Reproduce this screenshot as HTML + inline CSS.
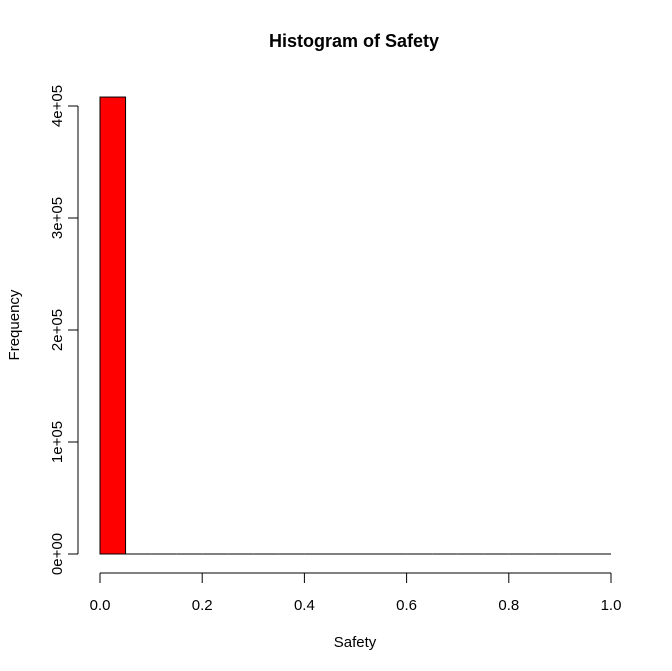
<!DOCTYPE html>
<html><head><meta charset="utf-8"><style>body{margin:0;background:#fff}svg{display:block;font-family:"Liberation Sans",Arial,sans-serif}</style></head>
<body>
<svg width="672" height="671" viewBox="0 0 672 671">
<text x="354" y="47" text-anchor="middle" font-size="18" font-weight="bold">Histogram of Safety</text>
<text x="355" y="647" text-anchor="middle" font-size="15">Safety</text>
<text transform="translate(19,325) rotate(-90)" text-anchor="middle" font-size="15">Frequency</text>
<g id="bars"></g>
<g id="xaxis"></g>
<g id="yaxis"></g>
</svg>
<script>
const binStarts=[0,0.05,0.1,0.15,0.2,0.25,0.3,0.35,0.4,0.45,0.5,0.55,0.6,0.65,0.7,0.75,0.8,0.85,0.9,0.95];
const counts=[408000,0,0,0,0,0,0,0,0,0,0,0,0,0,0,0,0,0,0,0];
const xTicks=[0,0.2,0.4,0.6,0.8,1.0];
const xTickLabels=["0.0","0.2","0.4","0.6","0.8","1.0"];
const yTicks=[0,100000,200000,300000,400000];
const yTickLabels=["0e+00","1e+05","2e+05","3e+05","4e+05"];
const binWidth=0.05;
const NS="http://www.w3.org/2000/svg";
const xs=v=>100+v*511;
const ys=v=>554-v/100000*112;
function mk(t,a,p){const e=document.createElementNS(NS,t);for(const k in a)e.setAttribute(k,a[k]);p.appendChild(e);return e;}
const bars=document.getElementById('bars');
binStarts.forEach((b,i)=>{
  const x0=xs(b),x1=xs(b+binWidth),y=ys(counts[i]);
  let r;
  if(counts[i]>0){
    r=mk('rect',{x:x0,y:y,width:x1-x0,height:ys(0)-y,fill:'red',stroke:'#000','stroke-width':1},bars);
  }else{
    r=mk('line',{x1:x0,x2:x1,y1:ys(0),y2:ys(0),stroke:'#000','stroke-width':1},bars);
  }
  
  
});
const xa=document.getElementById('xaxis');
mk('line',{x1:xs(xTicks[0]),x2:xs(xTicks[xTicks.length-1]),y1:573,y2:573,stroke:'#000'},xa);
xTicks.forEach((t,i)=>{
  mk('line',{x1:xs(t),x2:xs(t),y1:573,y2:583,stroke:'#000'},xa);
  const tx=mk('text',{x:xs(t),y:610,'text-anchor':'middle','font-size':15},xa);
  tx.textContent=xTickLabels[i];
  
  
});
const ya=document.getElementById('yaxis');
mk('line',{x1:78,x2:78,y1:ys(yTicks[0]),y2:ys(yTicks[yTicks.length-1]),stroke:'#000'},ya);
yTicks.forEach((t,i)=>{
  mk('line',{x1:68,x2:78,y1:ys(t),y2:ys(t),stroke:'#000'},ya);
  const tx=mk('text',{transform:`translate(62,${ys(t)}) rotate(-90)`,'text-anchor':'middle','font-size':15},ya);
  tx.textContent=yTickLabels[i];
  
  
});
</script>
</body></html>
